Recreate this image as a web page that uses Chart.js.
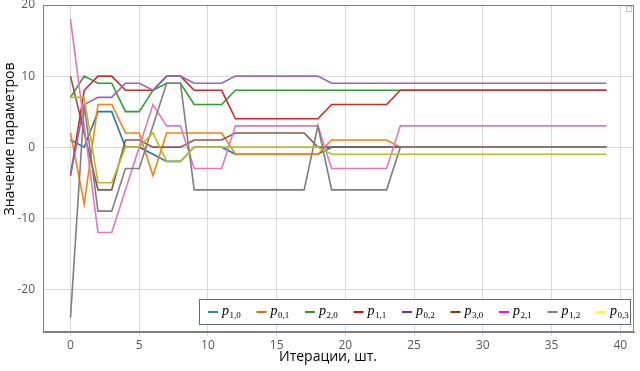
<!DOCTYPE html>
<html><head><meta charset="utf-8">
<script src="https://cdn.jsdelivr.net/npm/chart.js@4.4.1/dist/chart.umd.min.js"></script>
<style>html,body{margin:0;padding:0;background:#fff}#wrap{width:640px;height:371px;position:relative}</style>
</head><body><div id="wrap"><canvas id="c"></canvas></div>
<script>
// ---- data ----
const iterations = [0,1,2,3,4,5,6,7,8,9,10,11,12,13,14,15,16,17,18,19,20,21,22,23,24,25,26,27,28,29,30,31,32,33,34,35,36,37,38,39];
const subscripts = ['1,0','0,1','2,0','1,1','0,2','3,0','2,1','1,2','0,3'];
const p10 = [1,0,5,5,0,0,-1,-2,-2,0,0,0,-1,-1,-1,-1,-1,-1,-1,0,0,0,0,0,0,0,0,0,0,0,0,0,0,0,0,0,0,0,0,0];
const p01 = [2,-8,6,6,2,2,-4,2,2,2,2,2,-1,-1,-1,-1,-1,-1,-1,1,1,1,1,1,0,0,0,0,0,0,0,0,0,0,0,0,0,0,0,0];
const p20 = [7,10,9,9,5,5,8,9,9,6,6,6,8,8,8,8,8,8,8,8,8,8,8,8,8,8,8,8,8,8,8,8,8,8,8,8,8,8,8,8];
const p11 = [-4,8,10,10,8,8,8,10,10,8,8,8,4,4,4,4,4,4,4,6,6,6,6,6,8,8,8,8,8,8,8,8,8,8,8,8,8,8,8,8];
const p02 = [-4,6,7,7,9,9,8,10,10,9,9,9,10,10,10,10,10,10,10,9,9,9,9,9,9,9,9,9,9,9,9,9,9,9,9,9,9,9,9,9];
const p30 = [10,2,-6,-6,1,1,0,0,0,1,1,1,2,2,2,2,2,2,0,0,0,0,0,0,0,0,0,0,0,0,0,0,0,0,0,0,0,0,0,0];
const p21 = [18,3,-12,-12,-6,0,6,3,3,-3,-3,-3,3,3,3,3,3,3,3,-3,-3,-3,-3,-3,3,3,3,3,3,3,3,3,3,3,3,3,3,3,3,3];
const p12 = [-24,6,-9,-9,-3,-3,3,9,9,-6,-6,-6,-6,-6,-6,-6,-6,-6,3,-6,-6,-6,-6,-6,0,0,0,0,0,0,0,0,0,0,0,0,0,0,0,0];
const p03 = [7,7,-5,-5,0,0,2,-2,-2,0,0,0,0,0,0,0,0,0,0,-1,-1,-1,-1,-1,-1,-1,-1,-1,-1,-1,-1,-1,-1,-1,-1,-1,-1,-1,-1,-1];
const xTicks = [0,5,10,15,20,25,30,35,40];
const yTicks = [-20,-10,0,10,20];

const series = [p10,p01,p20,p11,p02,p30,p21,p12,p03];
const lineColors = ['#1f77b4','#ff7f0e','#2ca02c','#d62728','#9467bd','#8c564b','#e377c2','#7f7f7f','#bcbd22'];
const legendColors = ['#3c78d8','#e36c0a','#3f8f2f','#ff0000','#7030a0','#843c0c','#ff00ff','#808080','#ffff00'];

const datasets = series.map((s,i)=>({
  label: 'p' + subscripts[i],
  data: s.map((v,j)=>({x: iterations[j], y: v})),
  borderColor: lineColors[i],
  backgroundColor: lineColors[i],
  borderWidth: 1.6,
  pointRadius: 0,
  tension: 0,
  fill: false,
  order: series.length - i
}));

const frameAndText = {
  id: 'frameAndText',
  afterDraw(chart){
    const ctx = chart.ctx, a = chart.chartArea;
    ctx.save();
    ctx.strokeStyle = '#7f7f7f'; ctx.lineWidth = 1;
    ctx.strokeRect(Math.round(a.left)+0.5, Math.round(a.top)+0.5, Math.round(a.right-a.left)-1, Math.round(a.bottom-a.top)-1);
    // axis titles
    ctx.fillStyle = '#000';
    ctx.font = '14px "Open Sans"';
    ctx.textAlign = 'center'; ctx.textBaseline = 'middle';
    ctx.fillText('Итерации, шт.', 328, 357);
    ctx.save();
    ctx.translate(10, 139); ctx.rotate(-Math.PI/2);
    ctx.fillText('Значение параметров', 0, 0);
    ctx.restore();
    // legend
    ctx.fillStyle = '#fff';
    ctx.fillRect(199.5, 299.5, 431, 25);
    ctx.strokeStyle = '#5e6b7d'; ctx.lineWidth = 1;
    ctx.strokeRect(199.5, 299.5, 431, 25);
    const y = 312;
    chart.data.datasets.forEach((ds,i)=>{
      const x0 = 208 + i*48.5;
      ctx.strokeStyle = legendColors[i]; ctx.lineWidth = 2;
      ctx.beginPath(); ctx.moveTo(x0, y); ctx.lineTo(x0+10, y); ctx.stroke();
      ctx.fillStyle = '#000';
      ctx.textAlign = 'left'; ctx.textBaseline = 'alphabetic';
      ctx.font = 'italic 14px "Liberation Serif"';
      ctx.fillText('p', x0+14, y+3);
      const pw = ctx.measureText('p').width;
      ctx.font = '9px "Liberation Serif"';
      ctx.fillText(subscripts[i], x0+14+pw+0.5, y+6);
    });
    // small corner square
    ctx.strokeStyle = '#c8c8c8'; ctx.lineWidth = 1;
    ctx.strokeRect(626.5, 6.5, 5, 5);
    ctx.restore();
  }
};

new Chart(document.getElementById('c'), {
  type: 'line',
  data: { datasets },
  plugins: [frameAndText],
  options: {
    responsive: true, maintainAspectRatio: false, animation: false,
    layout: { padding: { top: 5, right: 6, left: 0, bottom: 0 } },
    plugins: { legend: { display: false }, tooltip: { enabled: false } },
    scales: {
      x: {
        type: 'linear', min: -2, max: 41,
        afterBuildTicks: s => { s.ticks = xTicks.map(v=>({value:v})); },
        afterFit: s => { s.height = 39; s.paddingLeft = 0; s.paddingRight = 0; },
        ticks: { color: '#595959', font: { size: 12, family: '"Open Sans"' }, padding: 2, maxRotation: 0 },
        grid: { color: '#d9d9d9', tickLength: 4, tickColor: '#d9d9d9' },
        border: { display: true, color: '#7f7f7f' }
      },
      y: {
        min: -26, max: 20,
        afterBuildTicks: s => { s.ticks = yTicks.map(v=>({value:v})); },
        afterFit: s => { s.width = 43; s.paddingTop = 0; s.paddingBottom = 0; },
        ticks: { color: '#595959', font: { size: 12, family: '"Open Sans"' }, padding: 8 },
        grid: { color: '#d9d9d9', drawTicks: false },
        border: { display: true, color: '#7f7f7f' }
      }
    }
  }
});
</script></body></html>
